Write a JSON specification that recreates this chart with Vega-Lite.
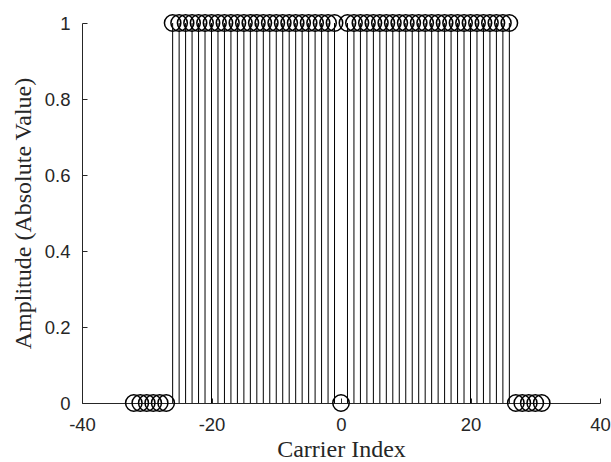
{
  "$schema": "https://vega.github.io/schema/vega-lite/v6.json",
  "autosize": {"type": "none"},
  "padding": {"left": 82, "top": 23, "right": 11, "bottom": 59},
  "width": 518,
  "height": 380,
  "background": "white",
  "config": {
    "view": {"stroke": null},
    "axis": {
      "grid": false,
      "domainColor": "#262626",
      "tickColor": "#262626",
      "labelColor": "#262626",
      "titleColor": "#262626",
      "labelFont": "Liberation Sans",
      "labelFontSize": 18.5,
      "labelFlush": false,
      "labelOverlap": false,
      "titleFont": "Liberation Serif",
      "titleFontSize": 24,
      "titleFontWeight": "normal",
      "tickSize": -5,
      "domainWidth": 1,
      "tickWidth": 1
    }
  },
  "data": {
    "values": [
      {"k": -32, "a": 0}, {"k": -31, "a": 0}, {"k": -30, "a": 0}, {"k": -29, "a": 0},
      {"k": -28, "a": 0}, {"k": -27, "a": 0},
      {"k": -26, "a": 1}, {"k": -25, "a": 1}, {"k": -24, "a": 1}, {"k": -23, "a": 1},
      {"k": -22, "a": 1}, {"k": -21, "a": 1}, {"k": -20, "a": 1}, {"k": -19, "a": 1},
      {"k": -18, "a": 1}, {"k": -17, "a": 1}, {"k": -16, "a": 1}, {"k": -15, "a": 1},
      {"k": -14, "a": 1}, {"k": -13, "a": 1}, {"k": -12, "a": 1}, {"k": -11, "a": 1},
      {"k": -10, "a": 1}, {"k": -9, "a": 1}, {"k": -8, "a": 1}, {"k": -7, "a": 1},
      {"k": -6, "a": 1}, {"k": -5, "a": 1}, {"k": -4, "a": 1}, {"k": -3, "a": 1},
      {"k": -2, "a": 1}, {"k": -1, "a": 1},
      {"k": 0, "a": 0},
      {"k": 1, "a": 1}, {"k": 2, "a": 1}, {"k": 3, "a": 1}, {"k": 4, "a": 1},
      {"k": 5, "a": 1}, {"k": 6, "a": 1}, {"k": 7, "a": 1}, {"k": 8, "a": 1},
      {"k": 9, "a": 1}, {"k": 10, "a": 1}, {"k": 11, "a": 1}, {"k": 12, "a": 1},
      {"k": 13, "a": 1}, {"k": 14, "a": 1}, {"k": 15, "a": 1}, {"k": 16, "a": 1},
      {"k": 17, "a": 1}, {"k": 18, "a": 1}, {"k": 19, "a": 1}, {"k": 20, "a": 1},
      {"k": 21, "a": 1}, {"k": 22, "a": 1}, {"k": 23, "a": 1}, {"k": 24, "a": 1},
      {"k": 25, "a": 1}, {"k": 26, "a": 1},
      {"k": 27, "a": 0}, {"k": 28, "a": 0}, {"k": 29, "a": 0}, {"k": 30, "a": 0},
      {"k": 31, "a": 0}
    ]
  },
  "encoding": {
    "x": {
      "field": "k",
      "type": "quantitative",
      "scale": {"domain": [-40, 40], "nice": false, "zero": false},
      "axis": {"values": [-40, -20, 0, 20, 40], "labelExpr": "replace(datum.label, '−', '-')", "title": "Carrier Index", "labelPadding": 17, "titlePadding": 4}
    },
    "y": {
      "field": "a",
      "type": "quantitative",
      "scale": {"domain": [0, 1], "nice": false},
      "axis": {"values": [0, 0.2, 0.4, 0.6, 0.8, 1], "format": "~g", "title": "Amplitude (Absolute Value)", "labelPadding": 17, "titlePadding": 9}
    }
  },
  "layer": [
    {
      "mark": {"type": "rule", "color": "black", "strokeWidth": 1},
      "encoding": {
        "y2": {"datum": 0}
      }
    },
    {
      "mark": {"type": "point", "shape": "circle", "filled": false, "color": "black", "size": 270, "strokeWidth": 1.5, "opacity": 1},
      "encoding": {}
    }
  ]
}
